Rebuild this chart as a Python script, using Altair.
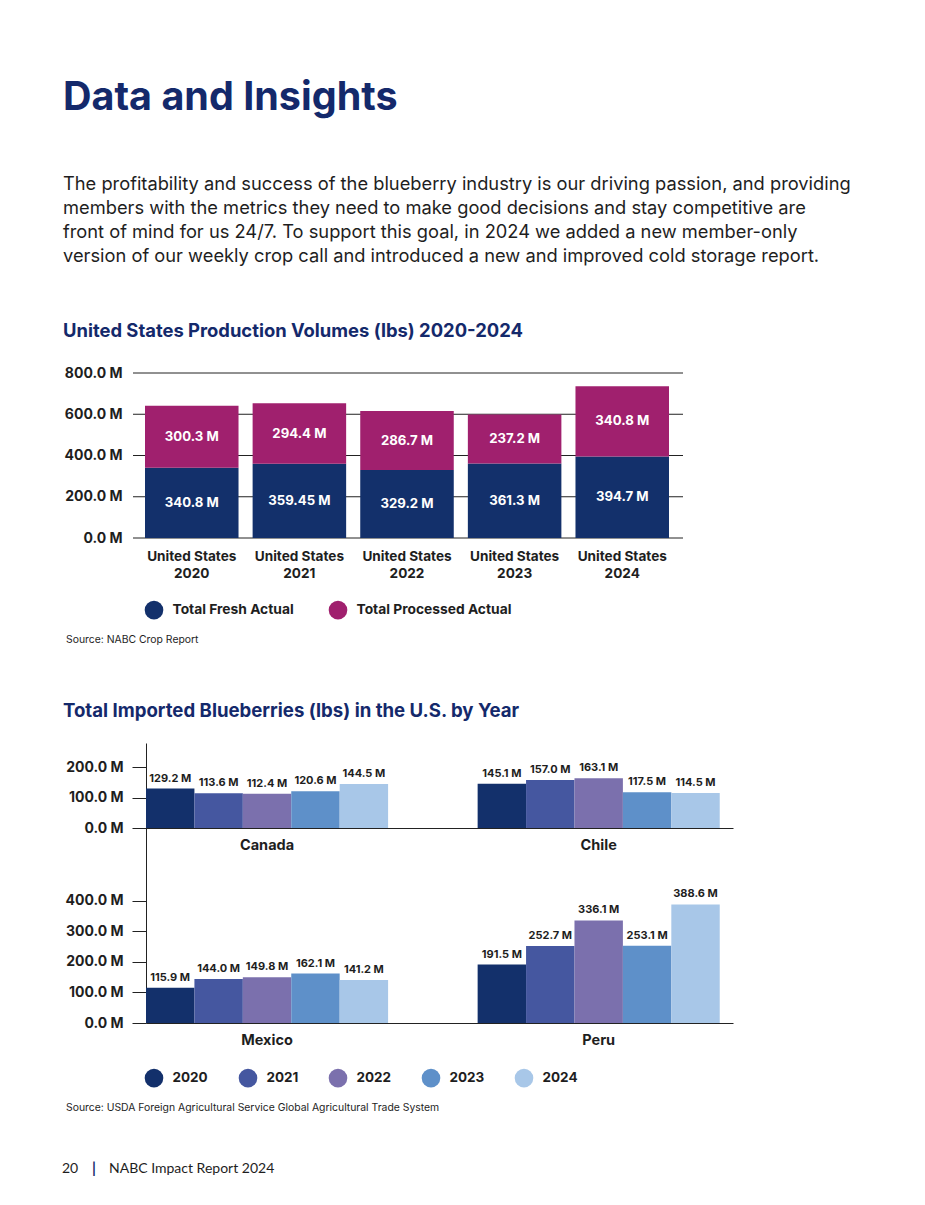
import altair as alt
import pandas as pd

# ---------------- data ----------------
years = ["2020", "2021", "2022", "2023", "2024"]
series_names = ["Total Fresh Actual", "Total Processed Actual"]
fresh = [340.8, 359.45, 329.2, 361.3, 394.7]
processed = [300.3, 294.4, 286.7, 237.2, 340.8]
us_ticks = [0, 200, 400, 600, 800]

countries_top = ["Canada", "Chile"]
countries_bottom = ["Mexico", "Peru"]
canada = [129.2, 113.6, 112.4, 120.6, 144.5]
chile = [145.1, 157.0, 163.1, 117.5, 114.5]
mexico = [115.9, 144.0, 149.8, 162.1, 141.2]
peru = [191.5, 252.7, 336.1, 253.1, 388.6]
top_ticks = [0, 100, 200]
bottom_ticks = [0, 100, 200, 300, 400]

NAVY = "#14296b"
DARK = "#1e1e1e"
FONT = "Inter"
FOOT_FONT = "Lato"
us_colors = ["#13306b", "#a0206e"]
year_colors = ["#13306b", "#4557a0", "#7b70ad", "#5e90c9", "#a8c7e8"]

# ---------------- tables ----------------
rows1 = []
for y, f, p in zip(years, fresh, processed):
    rows1.append(dict(year=y, series=series_names[0], y0=0.0, y1=f, mid=f / 2, label=f"{f} M"))
    rows1.append(dict(year=y, series=series_names[1], y0=f, y1=f + p, mid=f + p / 2, label=f"{p} M"))
df1 = pd.DataFrame(rows1)

def country_rows(name, vals):
    return [dict(country=name, year=y, value=v, label=f"{v} M") for y, v in zip(years, vals)]

df_top = pd.DataFrame(country_rows("Canada", canada) + country_rows("Chile", chile))
df_bot = pd.DataFrame(country_rows("Mexico", mexico) + country_rows("Peru", peru))
df_grid = pd.DataFrame({"v": us_ticks})

label_expr = "format(datum.value, '.1f') + ' M'"

# ---------------- chart 1: US production ----------------
y1_scale = alt.Scale(domain=[0, 800], range=[530, 365], nice=False, zero=True)
y1_axis = alt.Axis(orient="left", offset=-125, domain=False, ticks=False, grid=False,
                   values=us_ticks, labelExpr=label_expr, labelPadding=11,
                   labelFont=FONT, labelFontWeight="bold", labelFontSize=14,
                   labelColor=DARK, title=None)
x1_scale = alt.Scale(domain=years, range=[137, 661], paddingInner=0.131, paddingOuter=0)
x1_axis = alt.Axis(orient="bottom", offset=530 - 1189, domain=False, ticks=False,
                   labelAngle=0, labelExpr="['United States', datum.label]",
                   labelLineHeight=17, labelPadding=11, labelFont=FONT,
                   labelFontWeight="bold", labelFontSize=13.6, labelColor=DARK, title=None)

grid1 = alt.Chart(df_grid).mark_rule(color="#222222", strokeWidth=1).encode(
    y=alt.Y("v:Q", scale=y1_scale, axis=y1_axis),
    x=alt.value(125), x2=alt.value(675),
)
bars1 = alt.Chart(df1).mark_bar().encode(
    x=alt.X("year:N", scale=x1_scale, axis=x1_axis),
    y=alt.Y("y0:Q", scale=y1_scale, axis=y1_axis),
    y2="y1:Q",
    color=alt.Color("series:N", scale=alt.Scale(domain=series_names, range=us_colors),
                    legend=alt.Legend(orient="none", legendX=136.5, legendY=592.5,
                                      direction="horizontal", title=None,
                                      symbolType="circle", symbolSize=346,
                                      symbolStrokeWidth=0, symbolOpacity=1,
                                      labelFont=FONT, labelFontWeight="bold",
                                      labelFontSize=13.8, labelColor=DARK,
                                      labelOffset=9, columnPadding=34, padding=0)),
)
text1 = alt.Chart(df1).mark_text(color="white", font=FONT, fontWeight="bold",
                                 fontSize=13.2, baseline="middle").encode(
    x=alt.X("year:N", scale=x1_scale, axis=x1_axis),
    y=alt.Y("mid:Q", scale=y1_scale, axis=y1_axis),
    text="label:N",
)
chart1 = alt.layer(grid1, bars1, text1)

# ---------------- chart 2: imports ----------------
def import_row(df, countries, y_domain_max, y_range, ticks, x_offset_px, show_domain, show_legend):
    xs = alt.Scale(domain=countries, range=[138, 725], paddingInner=0.27,
                   paddingOuter=0.02, align=0)
    xa = alt.Axis(orient="bottom", offset=x_offset_px, domain=True, domainColor="#222222",
                  ticks=False, labelAngle=0, labelPadding=10, labelFont=FONT,
                  labelFontWeight="bold", labelFontSize=14.5, labelColor=DARK, title=None)
    ys = alt.Scale(domain=[0, y_domain_max], range=y_range, nice=False, zero=True)
    ya = alt.Axis(orient="left", offset=-138, domain=show_domain, domainColor="#222222",
                  ticks=True, tickSize=14, tickColor="#222222", grid=False,
                  values=ticks, labelExpr=label_expr, labelPadding=9,
                  labelFont=FONT, labelFontWeight="bold", labelFontSize=14,
                  labelColor=DARK, title=None)
    xo = alt.XOffset("year:N", scale=alt.Scale(domain=years, paddingInner=0, paddingOuter=0))
    if show_legend:
        leg = alt.Legend(orient="none", legendX=136.5, legendY=1060.5,
                         direction="horizontal", title=None,
                         symbolType="circle", symbolSize=346,
                         symbolStrokeWidth=0, symbolOpacity=1,
                         labelFont=FONT, labelFontWeight="bold",
                         labelFontSize=13.5, labelColor=DARK,
                         labelOffset=9, columnPadding=30, padding=0)
    else:
        leg = None
    color = alt.Color("year:N", scale=alt.Scale(domain=years, range=year_colors), legend=leg)
    bars = alt.Chart(df).mark_bar().encode(
        x=alt.X("country:N", scale=xs, axis=xa),
        xOffset=xo,
        y=alt.Y("value:Q", scale=ys, axis=ya),
        color=color,
    )
    txt = alt.Chart(df).mark_text(color=DARK, font=FONT, fontWeight="bold", fontSize=11,
                                  baseline="bottom", dy=-5).encode(
        x=alt.X("country:N", scale=xs, axis=xa),
        xOffset=xo,
        y=alt.Y("value:Q", scale=ys, axis=ya),
        text="label:N",
    )
    return alt.layer(bars, txt)

row_top = import_row(df_top, countries_top, 278.7, [820, 735], top_ticks, 820 - 1189, False, True)
row_bot = import_row(df_bot, countries_bottom, 918.0, [1015, 735], bottom_ticks, 1015 - 1189, True, False)

# ---------------- page texts ----------------
one = pd.DataFrame({"t": [""]})

def page_text(s, x, y, size, weight="normal", color=DARK, line_height=None, font=FONT):
    kw = dict(align="left", baseline="alphabetic", font=font, fontSize=size,
              fontWeight=weight, color=color, text=s)
    if line_height is not None:
        kw["lineBreak"] = "\n"
        kw["lineHeight"] = line_height
    return alt.Chart(one).mark_text(**kw).encode(x=alt.value(x), y=alt.value(y))

paragraph = ("The profitability and success of the blueberry industry is our driving passion, and providing\n"
             "members with the metrics they need to make good decisions and stay competitive are\n"
             "front of mind for us 24/7. To support this goal, in 2024 we added a new member-only\n"
             "version of our weekly crop call and introduced a new and improved cold storage report.")

texts = [
    page_text("Data and Insights", 55, 102, 39.5, "bold", NAVY),
    page_text(paragraph, 55, 181.5, 18.3, "normal", DARK, 24),
    page_text("United States Production Volumes (lbs) 2020-2024", 55, 329, 18.4, "bold", NAVY),
    page_text("Source: NABC Crop Report", 58, 635, 10.4, "normal", DARK),
    page_text("Total Imported Blueberries (lbs) in the U.S. by Year", 55, 709, 18.6, "bold", NAVY),
    page_text("Source: USDA Foreign Agricultural Service Global Agricultural Trade System", 58, 1103, 10.4, "normal", DARK),
    page_text("20", 54, 1165, 14, "normal", DARK, font=FOOT_FONT),
    page_text("|", 84, 1165, 15, "bold", NAVY, font=FOOT_FONT),
    page_text("NABC Impact Report 2024", 101, 1165, 14, "normal", DARK, font=FOOT_FONT),
]

chart = alt.layer(*texts, chart1, row_top, row_bot).resolve_scale(
    x="independent", y="independent", color="independent", xOffset="independent"
).properties(
    width=909, height=1189, padding=0,
    autosize=alt.AutoSizeParams(type="none"),
).configure(font=FONT, view=alt.ViewConfig(strokeWidth=0, stroke="transparent"))

chart.save("out.html", embed_options={"renderer": "svg", "actions": False})
